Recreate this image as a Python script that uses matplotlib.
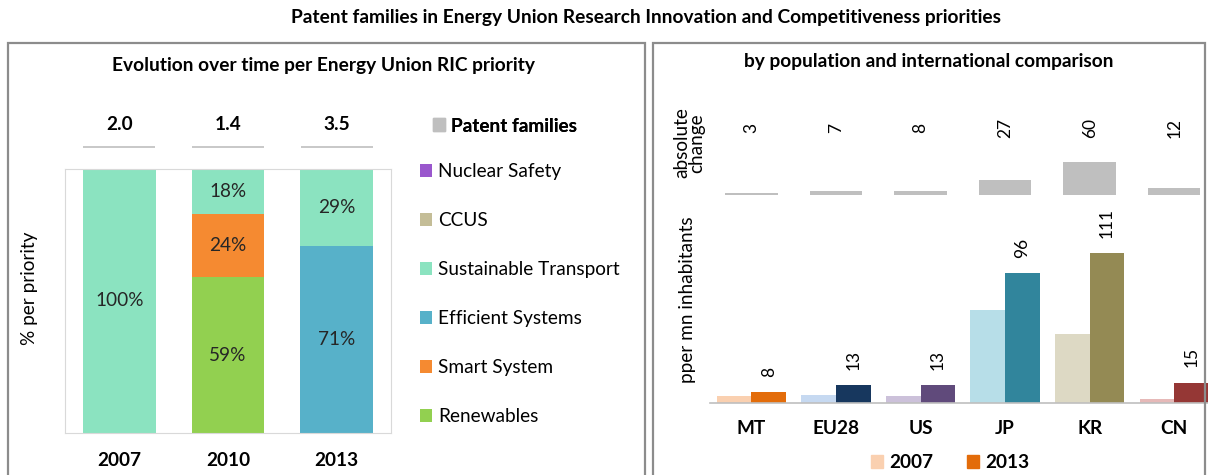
import matplotlib
matplotlib.use('Agg')
import matplotlib.pyplot as plt
from matplotlib.patches import Rectangle, Patch
import numpy as np

plt.rcParams['font.family'] = ['Lato', 'DejaVu Sans']

# Left panel data: share per Energy Union RIC priority (%)
years = ['2007', '2010', '2013']
patent_families = [2.0, 1.4, 3.5]
priorities = ['Renewables', 'Smart System', 'Efficient Systems',
              'Sustainable Transport', 'CCUS', 'Nuclear Safety']
renewables = [0, 59, 0]
smart_system = [0, 24, 0]
efficient_systems = [0, 0, 71]
sustainable_transport = [100, 18, 29]
ccus = [0, 0, 0]
nuclear_safety = [0, 0, 0]
prio_colors = ['#92D050', '#F58A31', '#57B1C9', '#8BE3C0', '#C4BD97', '#9A57CD']

# Right panel data: patent families per mn inhabitants
countries = ['MT', 'EU28', 'US', 'JP', 'KR', 'CN']
per_mn_2007 = [5, 6, 5, 69, 51, 3]
per_mn_2013 = [8, 13, 13, 96, 111, 15]
abs_change = [3, 7, 8, 27, 60, 12]
colors_2007 = ['#FAD0B0', '#C6D9F1', '#CCC1DA', '#B7DEE8', '#DDD9C4', '#E6B9B8']
colors_2013 = ['#E36C0A', '#17375E', '#604A7B', '#31859C', '#948A54', '#953735']

W, H = 1208, 475
fig = plt.figure(figsize=(W / 100, H / 100), dpi=100)
FS = 13.7   # main text size
FSN = 12.5  # rotated value labels


def px_axes(x0, y0, x1, y1):
    return fig.add_axes([x0 / W, 1 - y1 / H, (x1 - x0) / W, (y1 - y0) / H])


# panel frames and titles
for x0, x1 in [(8, 645), (653, 1205)]:
    fig.add_artist(Rectangle((x0 / W, -0.1), (x1 - x0) / W, 1.1 - 43 / H,
                             transform=fig.transFigure, fill=False,
                             ec='#8C8C8C', lw=1.6))
fig.text(646 / W, 1 - 18 / H,
         'Patent families in Energy Union Research Innovation and Competitiveness priorities',
         ha='center', va='center', fontsize=13.8, fontweight='bold')
fig.text(323 / W, 1 - 65 / H, 'Evolution over time per Energy Union RIC priority',
         ha='center', va='center', fontsize=13.8, fontweight='bold')
fig.text(929 / W, 1 - 61 / H, 'by population and international comparison',
         ha='center', va='center', fontsize=13.8, fontweight='bold')

# ---- left: stacked shares
x = np.arange(len(years))
ax = px_axes(65, 169, 391, 433)
series = [renewables, smart_system, efficient_systems,
          sustainable_transport, ccus, nuclear_safety]
bottom = np.zeros(len(years))
for name, vals, c in zip(priorities, series, prio_colors):
    vals = np.array(vals, dtype=float)
    ax.bar(x, vals, 0.67, bottom=bottom, color=c, label=name)
    for xi, b, v in zip(x, bottom, vals):
        if v > 0:
            ax.text(xi, min(b + v / 2, (b + 100) / 2), f'{v:.0f}%',
                    ha='center', va='center', fontsize=FS, color='#262626')
    bottom += vals
ax.set_xlim(-0.5, 2.5)
ax.set_ylim(0, 100)
ax.set_xticks(x)
ax.set_xticklabels(years, fontsize=FS, fontweight='bold')
ax.set_yticks([])
ax.tick_params(length=0, pad=14)
for s in ax.spines.values():
    s.set_color('#D9D9D9')
fig.text(29 / W, 1 - 288 / H, '% per priority', rotation=90,
         ha='center', va='center', fontsize=FS)

# patent families totals above bars
ax_pf = px_axes(65, 100, 391, 150)
ax_pf.hlines(np.full(len(x), 0.06), x - 0.33, x + 0.33, color='#BFBFBF', lw=1.2)
for xi, v in zip(x, patent_families):
    ax_pf.text(xi, 0.5, f'{v:.1f}', ha='center', va='center',
               fontsize=FS, fontweight='bold')
ax_pf.set_xlim(-0.5, 2.5)
ax_pf.set_ylim(0, 1)
ax_pf.axis('off')

leg1 = fig.legend(handles=[Patch(color='#BFBFBF')], labels=['Patent families'],
                  loc='center left', bbox_to_anchor=(433 / W, 1 - 126 / H),
                  frameon=False, handlelength=0.65, handleheight=0.65,
                  handletextpad=0.3, borderpad=0, borderaxespad=0,
                  prop={'size': FS, 'weight': 'bold'})
handles, labels = ax.get_legend_handles_labels()
fig.legend(handles[::-1], labels[::-1], loc='center left',
           bbox_to_anchor=(420 / W, 1 - 294 / H), frameon=False,
           handlelength=0.65, handleheight=0.65, handletextpad=0.3,
           labelspacing=1.68, borderpad=0, borderaxespad=0, fontsize=FS)
fig.add_artist(leg1)

# ---- right: absolute change
xc = np.arange(len(countries))
ax_abs = px_axes(710, 110, 1208, 195)
ax_abs.bar(xc, abs_change, 0.62, color='#BFBFBF')
for xi, v in zip(xc, abs_change):
    ax_abs.text(xi, 0.79, str(v), transform=ax_abs.get_xaxis_transform(),
                rotation=90, ha='center', va='center', fontsize=FSN)
ax_abs.set_xlim(-0.49, 5.4)
ax_abs.set_ylim(0, 154.5)
ax_abs.axis('off')
fig.text(689 / W, 1 - 143 / H, 'absolute\nchange', rotation=90,
         ha='center', va='center', fontsize=FS, linespacing=0.85)

# ---- right: per mn inhabitants
ax2 = px_axes(710, 205, 1208, 403)
w = 0.41
ax2.bar(xc - w / 2, per_mn_2007, w, color=colors_2007)
b13 = ax2.bar(xc + w / 2, per_mn_2013, w, color=colors_2013)
for rect, v in zip(b13, per_mn_2013):
    ax2.annotate(str(v), (rect.get_x() + rect.get_width() / 2, rect.get_height()),
                 xytext=(0, 11), textcoords='offset points', rotation=90,
                 ha='center', va='bottom', fontsize=FSN)
ax2.set_xlim(-0.49, 5.4)
ax2.set_ylim(0, 146.7)
ax2.set_xticks(xc)
ax2.set_xticklabels(countries, fontsize=FS, fontweight='bold')
ax2.set_yticks([])
ax2.tick_params(length=0, pad=12)
for s in ['top', 'right', 'left']:
    ax2.spines[s].set_visible(False)
ax2.spines['bottom'].set_color('#BFBFBF')
ax2.spines['bottom'].set_linewidth(1.2)
fig.text(687 / W, 1 - 300 / H, 'pper mn inhabitants', rotation=90,
         ha='center', va='center', fontsize=FS)

fig.legend(handles=[Patch(color=colors_2007[0]), Patch(color=colors_2013[0])],
           labels=['2007', '2013'], loc='center', ncol=2,
           bbox_to_anchor=(950 / W, 1 - 463 / H), frameon=False,
           handlelength=0.65, handleheight=0.65, handletextpad=0.3,
           columnspacing=1.8, borderpad=0, prop={'size': FS, 'weight': 'bold'})

fig.savefig('out.png', dpi=100)
